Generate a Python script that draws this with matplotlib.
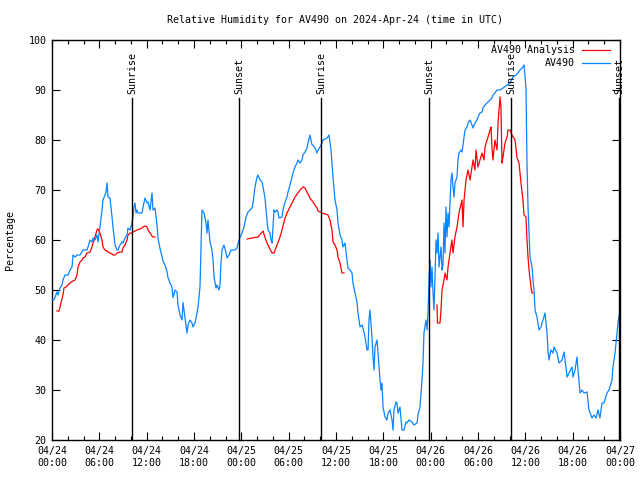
import matplotlib
matplotlib.use("Agg")
import matplotlib.pyplot as plt
import numpy as np

# ---------------- data (hours since 2024-04-24 00:00 UTC) ----------------
blue_hours = [0.00, 0.25, 0.63, 0.76, 1.01, 1.27, 1.39, 1.65, 2.03, 2.28, 2.54, 2.66, 2.92, 3.17, 3.55, 3.80, 3.93,
              4.44, 4.56, 4.82, 5.07, 5.20, 5.45, 5.70, 5.83, 6.08, 6.34, 6.46, 6.72, 6.85, 6.97, 7.10, 7.35, 7.61,
              7.73, 7.99, 8.24, 8.37, 8.62, 8.87, 9.00, 9.25, 9.51, 9.63, 9.89, 10.14, 10.27, 10.39, 10.52, 10.65,
              10.77, 10.90, 11.41, 11.54, 11.79, 12.04, 12.17, 12.42, 12.68, 12.80, 13.06, 13.31, 13.44, 13.69,
              13.94, 14.07, 14.32, 14.58, 14.70, 14.96, 15.21, 15.34, 15.59, 15.85, 15.97, 16.23, 16.48, 16.61,
              16.86, 17.11, 17.24, 17.49, 17.75, 17.87, 18.13, 18.38, 18.51, 18.76, 18.89, 19.01, 19.27, 19.52,
              19.65, 19.77, 20.03, 20.28, 20.41, 20.54, 20.79, 20.92, 21.17, 21.30, 21.42, 21.55, 21.80, 22.06,
              22.18, 22.44, 22.69, 23.20, 23.45, 23.70, 24.08, 24.34, 24.59, 24.85, 25.35, 25.48, 25.73, 25.99,
              26.11, 26.37, 26.62, 26.75, 27.00, 27.13, 27.25, 27.38, 27.63, 27.76, 27.89, 28.01, 28.14, 28.27,
              28.52, 28.65, 28.77, 29.15, 29.28, 29.54, 29.79, 29.92, 30.17, 30.42, 30.55, 30.80, 31.06, 31.18,
              31.44, 31.69, 31.82, 32.07, 32.32, 32.45, 32.70, 32.96, 33.08, 33.34, 33.59, 33.72, 33.97, 34.23,
              34.35, 34.86, 35.11, 35.37, 35.49, 35.62, 35.87, 36.13, 36.25, 36.51, 36.76, 36.89, 37.14, 37.39,
              37.52, 37.77, 38.03, 38.15, 38.41, 38.66, 38.79, 39.04, 39.30, 39.42, 39.68, 39.93, 40.06, 40.18,
              40.31, 40.56, 40.69, 40.82, 40.94, 41.20, 41.32, 41.58, 41.70, 41.83, 41.96, 42.21, 42.46, 42.59,
              42.85, 43.10, 43.23, 43.35, 43.61, 43.73, 43.86, 44.11, 44.37, 44.62, 44.87, 45.00, 45.25, 45.63,
              45.89, 46.27, 46.39, 46.65, 46.90, 47.03, 47.15, 47.41, 47.54, 47.66, 47.79, 47.92, 48.04, 48.17,
              48.30, 48.42, 48.55, 48.68, 48.80, 48.93, 49.06, 49.31, 49.44, 49.56, 49.69, 49.82, 49.94, 50.07,
              50.20, 50.32, 50.58, 50.70, 50.83, 50.96, 51.08, 51.34, 51.46, 51.59, 51.85, 51.97, 52.10, 52.23,
              52.35, 52.61, 52.73, 52.99, 53.24, 53.37, 53.62, 53.87, 54.00, 54.25, 54.51, 54.63, 54.89, 55.14,
              55.52, 55.77, 55.90, 56.15, 56.41, 56.79, 57.17, 57.68, 58.06, 58.44, 58.82, 59.07, 59.32, 59.70,
              59.83, 60.08, 60.21, 60.34, 60.59, 60.85, 60.97, 61.10, 61.23, 61.48, 61.73, 61.99, 62.11, 62.24,
              62.49, 62.75, 62.87, 63.00, 63.25, 63.51, 63.63, 64.01, 64.27, 64.65, 64.90, 65.15, 65.28, 65.54,
              65.92, 66.04, 66.30, 66.55, 66.68, 66.93, 67.18, 67.44, 67.82, 68.07, 68.45, 68.71, 68.96, 69.21,
              69.46, 69.72, 69.97, 70.35, 70.61, 70.99, 71.11, 71.37, 71.62, 71.75, 72.00]
blue_rh = [48, 48, 49.6, 49, 50.4, 51, 52, 53, 53, 54, 54.6, 57, 56.6, 57, 57, 57.6, 58,
           58, 58.6, 60, 59.6, 60.4, 60, 61, 59.6, 62.6, 66, 68, 69, 69.6, 71.4, 68.6, 68.4, 64.6,
           62.6, 59, 58, 58, 59, 59.6, 59.4, 60.4, 61, 62.4, 62, 63.4, 64.6, 66.6, 67.4, 65.4,
           66, 65.4, 65.4, 66.6, 68.4, 67.4, 67.6, 66, 69.4, 66, 66.4, 63, 60.3, 58.3,
           56.6, 55.8, 55, 53.7, 52.5, 51.4, 50.5, 48.5, 50, 49.6, 47, 45, 44, 47.5,
           44.4, 41.4, 43, 44, 43.4, 42.6, 43.4, 45.4, 46.6, 50.6, 58.6, 66, 65.4, 63.4,
           61.4, 64, 59.6, 58, 56, 52.6, 50.4, 51, 50, 51, 55.4, 58, 59, 57.4,
           56.4, 57, 58, 58, 58.4, 60, 61.4, 62.6, 64.6, 65.6, 66.4, 67.4, 70.6, 72.6,
           73, 72, 71.6, 70.6, 68.4, 66, 64, 62, 61.4, 60, 59.4, 62.6, 66, 65.6,
           66, 65.6, 64.4, 64.6, 66, 67.6, 68.6, 69.6, 71, 72.6, 73.4, 74.6, 75.4, 76,
           75.4, 76, 77, 77.6, 78.4, 79.4, 81, 79, 79, 78.4, 77.4, 78, 78.6, 79.4,
           80, 80.4, 81, 78, 75.4, 72.6, 68, 66, 63.4, 61, 60, 58.6, 59.4, 56,
           54.4, 54, 53.4, 51.4, 49.4, 47.6, 45.4, 42.6, 43, 42.4, 40.6, 38, 38, 44,
           46, 40.6, 36.6, 34, 38.6, 40, 37.4, 32, 30, 31.4, 26.6, 24.6, 24, 25.4,
           26, 24, 22, 26, 27.6, 27.4, 25.4, 26.6, 22, 22, 23.6, 23.4, 24, 23.6,
           23, 23.4, 25, 26.6, 32, 35.4, 41.4, 44, 42, 45.4, 52, 56, 50.6, 54.6,
           49.4, 46, 52.6, 60, 57.4, 61.4, 54.6, 58.6, 54, 55, 63.4, 57.4, 66.6, 60.6,
           65.4, 62.6, 72, 73.4, 70.6, 68.6, 71.4, 72.6, 76, 77.4, 78, 77.6, 79, 80.6,
           82, 82.6, 83.4, 84, 83, 82.4, 83.4, 84, 84.6, 85.4, 85.6, 86.4, 87, 87.4,
           88, 88.4, 89, 89.4, 90, 90, 90.4, 91, 91.4, 92.6, 93, 93.4, 94, 94.6,
           95, 90.6, 75.4, 66.6, 56.6, 54.6, 52, 50, 46, 44.6, 42, 42.6, 43.4, 44,
           45.4, 41.4, 38, 36, 38, 37.4, 38.6, 37.4, 35.4, 36, 37.6, 34.6, 32.6, 33.4,
           34.6, 32.6, 34, 36.6, 34, 29.4, 30, 29.4, 29.6, 26, 24.4, 25, 24.4, 26,
           24.4, 27.4, 27.4, 29.4, 30, 32, 34.6, 37.4, 41.4, 43.4, 46]

ana1_hours = [0.63, 0.89, 1.14, 1.39, 1.52, 1.77, 2.03, 2.28, 2.66, 2.92, 3.17, 3.30, 3.55, 3.80, 3.93, 4.18,
              4.44, 4.82, 5.07, 5.20, 5.45, 5.70, 5.83, 6.08, 6.34, 6.46, 6.72, 6.97, 7.10, 7.35, 7.61, 7.73,
              7.99, 8.24, 8.62, 8.87, 9.00, 9.25, 9.51, 9.63, 9.89, 10.14, 10.27, 10.52, 10.77, 11.16, 11.41,
              11.54, 11.79, 12.04, 12.17, 12.42, 12.68, 12.80, 13.06]
ana1_rh = [45.8, 45.8, 47.4, 49, 50.4, 50.6, 51, 51.4, 51.8, 52, 53, 54.6, 55.6, 56, 56.4, 56.6,
           57.4, 57.6, 58.6, 59.4, 60.6, 62, 62.2, 61.4, 60, 58.6, 58, 57.8, 57.6, 57.4, 57.2, 57,
           57, 57.4, 57.6, 57.6, 58.4, 59, 60, 61, 61.4, 61.4, 61.6, 61.8, 62, 62.2, 62.4,
           62.6, 62.8, 62.6, 62, 61.4, 60.8, 60.6, 60.6]

ana2_hours = [24.72, 25.35, 26.11, 26.75, 27.00, 27.25, 27.63, 27.89, 28.14, 28.52, 28.90, 29.15, 29.54,
              29.79, 30.17, 30.42, 30.80, 31.18, 31.44, 31.82, 32.07, 32.32, 32.70, 33.08, 33.59, 33.72,
              34.23, 34.61, 34.99, 35.24, 35.49, 35.62, 35.87, 36.13, 36.25, 36.51, 36.76, 37.01]
ana2_rh = [60.2, 60.4, 60.6, 61.8, 60.5, 59.4, 58.2, 57.4, 57.4, 59, 60.6, 62, 64.4,
           65.4, 66.6, 67.4, 68.6, 69.4, 70, 70.6, 70.4, 69.6, 68.4, 67.6, 66.4, 65.8,
           65.4, 65.2, 65, 64, 62, 59.6, 59, 58, 56.6, 55.4, 53.4, 53.4]

ana3_hours = [48.80, 48.86, 49.18, 49.31, 49.44, 49.69, 49.82, 50.07, 50.20, 50.45, 50.70, 50.83, 51.08,
              51.34, 51.59, 51.97, 52.10, 52.23, 52.48, 52.73, 52.99, 53.24, 53.37, 53.62, 53.75, 54.00,
              54.25, 54.51, 54.76, 54.89, 55.14, 55.27, 55.52, 55.65, 55.77, 55.90, 56.15, 56.41, 56.54,
              56.79, 56.91, 57.04, 57.17, 57.42, 57.68, 57.80, 58.06, 58.31, 58.69, 58.95, 59.20, 59.45,
              59.70, 59.83, 60.08, 60.21, 60.34, 60.47, 60.72, 60.85, 60.97]
ana3_rh = [47, 43.4, 43.4, 46, 50, 52, 53.4, 52, 54.6, 57.4, 60, 57.4, 60.6,
           62.6, 65.4, 68, 62.6, 68, 72, 74, 72, 74.6, 76, 74, 78, 74.6,
           76, 77.4, 76, 78.6, 80, 80.6, 82, 82.6, 78.6, 76, 80, 78, 83.4,
           88.6, 86.6, 75.4, 76.6, 79.4, 80.6, 82, 82, 81, 80, 76.4, 75.4, 71.4,
           68, 65, 64.6, 60, 56.6, 54, 50.6, 49.4, 49.4]

sun_hours = [10.18, 23.74, 34.14, 47.83, 58.22, 71.91]
sun_labels = ["Sunrise", "Sunset", "Sunrise", "Sunset", "Sunrise", "Sunset"]

xtick_hours = list(range(0, 73, 6))
xtick_labels = ["04/24\n00:00", "04/24\n06:00", "04/24\n12:00", "04/24\n18:00",
                "04/25\n00:00", "04/25\n06:00", "04/25\n12:00", "04/25\n18:00",
                "04/26\n00:00", "04/26\n06:00", "04/26\n12:00", "04/26\n18:00",
                "04/27\n00:00"]
ytick_values = list(range(20, 101, 10))

title = "Relative Humidity for AV490 on 2024-Apr-24 (time in UTC)"
series_names = ["AV490 Analysis", "AV490"]

# ---------------- style ----------------
FONT = "DejaVu Sans Mono"
FS = 7.2
RED = "#ff0000"
BLUE = "#0a84ff"
plt.rcParams['font.family'] = [FONT]

fig = plt.figure(figsize=(6.4, 4.8), dpi=100)
ax = fig.add_axes([52 / 640, 40 / 480, 568 / 640, 400 / 480])

lw = 0.9
for hh, rr in [(ana1_hours, ana1_rh), (ana2_hours, ana2_rh), (ana3_hours, ana3_rh)]:
    ax.plot(hh, rr, color=RED, lw=lw, zorder=3)
ax.plot(blue_hours, blue_rh, color=BLUE, lw=lw, zorder=4)

for t, lab in zip(sun_hours, sun_labels):
    ax.plot([t, t], [20, 88.4], color="black", lw=1.0, zorder=5, clip_on=False)
    ax.text(t, 89.2, lab, rotation=90, ha="center", va="bottom", fontsize=FS,
            color="black", zorder=6, clip_on=False)

ax.set_xlim(0, 72)
ax.set_ylim(20, 100)
ax.set_xticks(xtick_hours)
ax.set_xticklabels(xtick_labels, fontsize=FS, linespacing=1.3)
ax.set_xticks(list(range(0, 73, 2)), minor=True)
ax.set_yticks(ytick_values)
ax.set_yticklabels([str(v) for v in ytick_values], fontsize=FS)
ax.tick_params(axis="both", which="major", direction="in", length=6, width=0.8,
               top=True, right=True, pad=4)
ax.tick_params(axis="x", which="minor", direction="in", length=3, width=0.8, top=True)
ax.tick_params(axis="y", which="minor", left=False, right=False)
for s in ax.spines.values():
    s.set_linewidth(1.0)
    s.set_color("black")

ax.set_ylabel("Percentage", fontsize=FS, labelpad=10)
fig.text(335 / 640, 1 - 20 / 480, title, ha="center", va="center", fontsize=FS)

# legend (gnuplot style: right-aligned text followed by line sample)
for i, (name, col) in enumerate(zip(series_names, [RED, BLUE])):
    ypos = 1 - (10 + 13 * i) / 400
    ax.text((575 - 52) / 568, ypos, name, ha="right", va="center", fontsize=FS,
            transform=ax.transAxes, zorder=7)
    ax.plot([(582 - 52) / 568, (610 - 52) / 568], [ypos, ypos], color=col, lw=lw,
            transform=ax.transAxes, zorder=7, clip_on=False)

fig.savefig("out.png", dpi=100)
